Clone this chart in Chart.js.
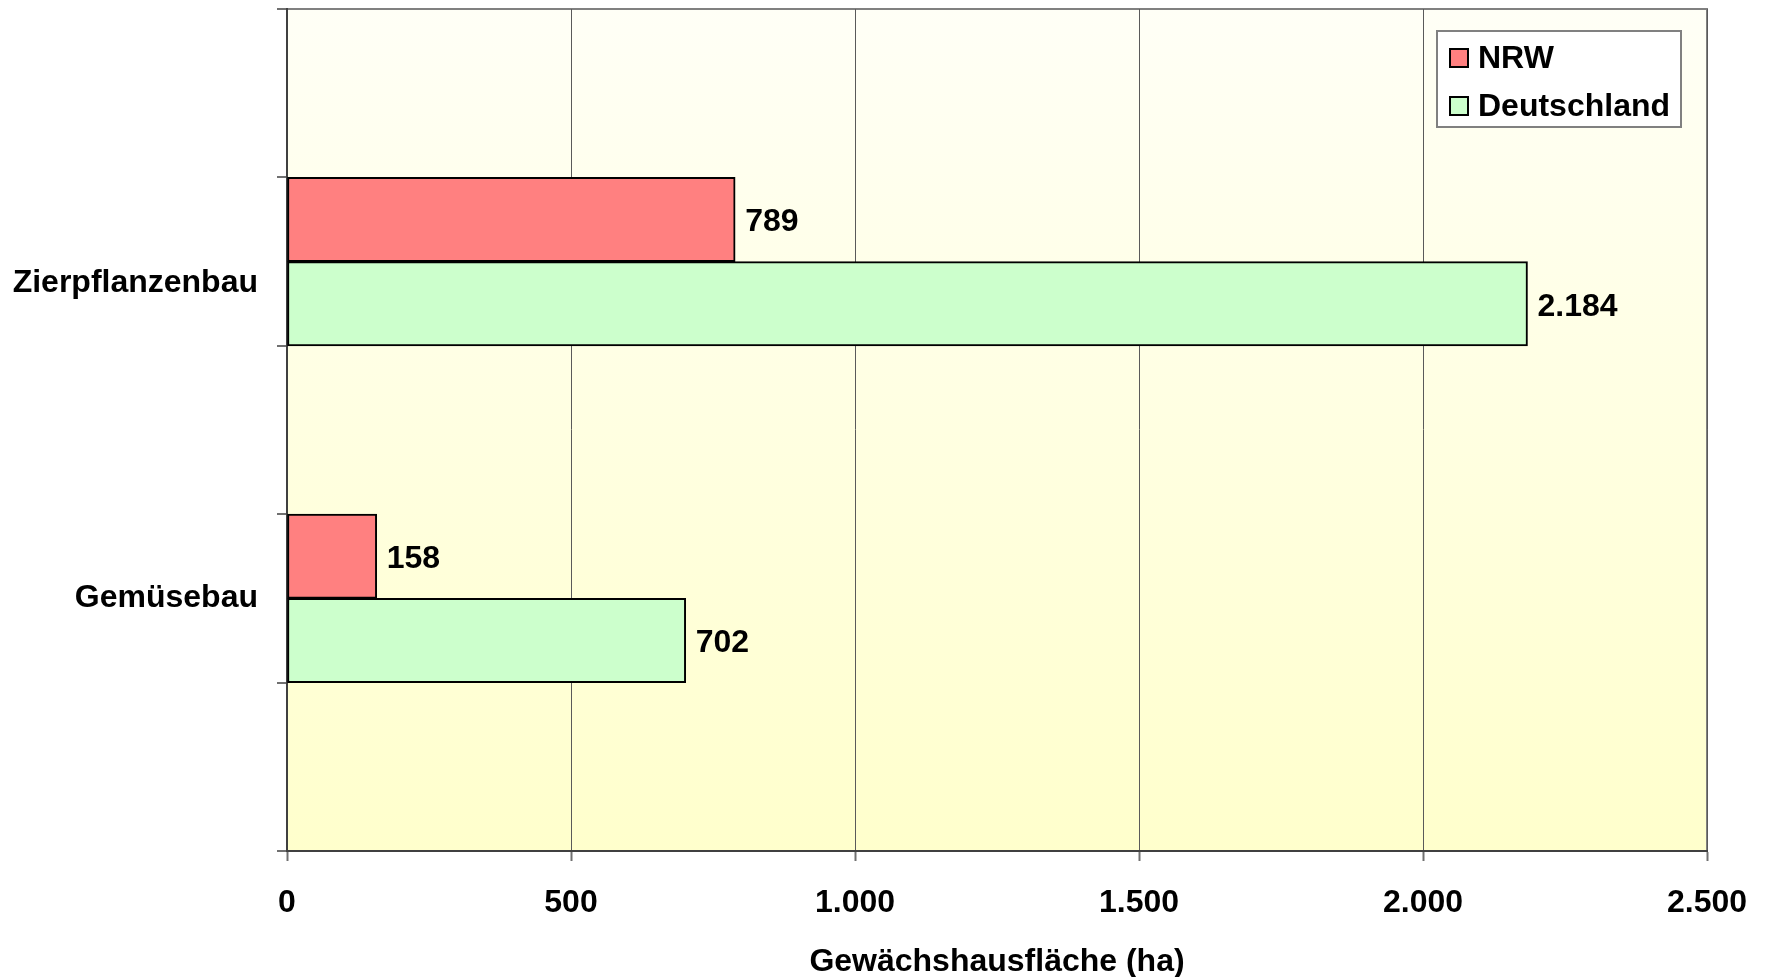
<!DOCTYPE html>
<html>
<head>
<meta charset="utf-8">
<script src="https://cdn.jsdelivr.net/npm/chart.js@4/dist/chart.umd.min.js"></script>
<style>html,body{margin:0;padding:0;background:#fff}</style>
</head>
<body>
<canvas id="chart" width="1766" height="977"></canvas>
<script>
// Gewächshausfläche NRW vs. Deutschland
const categories = ['', 'Zierpflanzenbau', '', 'Gemüsebau', ''];
const seriesNames = ['NRW', 'Deutschland'];
const nrwValues = [null, 789, null, 158, null];
const deutschlandValues = [null, 2184, null, 702, null];
const xTicks = [0, 500, 1000, 1500, 2000, 2500];
const axisTitle = 'Gewächshausfläche (ha)';

const FONT = "'Liberation Sans', Arial, sans-serif";
const fmt = v => String(Math.round(v)).replace(/\B(?=(\d{3})+(?!\d))/g, '.');

const plotBackground = {
  id: 'plotBackground',
  beforeDraw(chart) {
    const { ctx, chartArea: a } = chart;
    const g = ctx.createLinearGradient(0, a.top, 0, a.bottom);
    g.addColorStop(0, '#fffff6');
    g.addColorStop(1, '#ffffcc');
    ctx.save();
    ctx.fillStyle = g;
    ctx.fillRect(a.left, a.top, a.right - a.left, a.bottom - a.top);
    ctx.strokeStyle = '#808080';
    ctx.lineWidth = 2;
    ctx.strokeRect(a.left, a.top, a.right - a.left, a.bottom - a.top);
    ctx.restore();
  }
};

const valueLabels = {
  id: 'valueLabels',
  afterDatasetsDraw(chart) {
    const ctx = chart.ctx;
    ctx.save();
    ctx.font = 'bold 32px ' + FONT;
    ctx.fillStyle = '#000';
    ctx.textAlign = 'left';
    ctx.textBaseline = 'middle';
    chart.data.datasets.forEach((ds, i) => {
      chart.getDatasetMeta(i).data.forEach((bar, j) => {
        if (ds.data[j] == null) return;
        ctx.fillText(fmt(ds.data[j]), bar.x + 10, bar.y + 3);
      });
    });
    ctx.restore();
  }
};

const boxLegend = {
  id: 'boxLegend',
  afterDraw(chart) {
    const ctx = chart.ctx;
    const x = 1437, y = 31, w = 244, h = 96;
    ctx.save();
    ctx.fillStyle = '#fff';
    ctx.fillRect(x, y, w, h);
    ctx.strokeStyle = '#808080';
    ctx.lineWidth = 2;
    ctx.strokeRect(x, y, w, h);
    ctx.font = 'bold 32px ' + FONT;
    ctx.textBaseline = 'middle';
    chart.data.datasets.forEach((ds, i) => {
      const cy = y + 27 + i * 48;
      ctx.fillStyle = ds.backgroundColor;
      ctx.fillRect(x + 13, cy - 9, 18, 18);
      ctx.strokeStyle = '#000';
      ctx.lineWidth = 2;
      ctx.strokeRect(x + 13, cy - 9, 18, 18);
      ctx.fillStyle = '#000';
      ctx.fillText(ds.label, x + 41, cy + 1);
    });
    ctx.restore();
  }
};

new Chart(document.getElementById('chart'), {
  type: 'bar',
  data: {
    labels: categories,
    datasets: [{
      label: seriesNames[0],
      data: nrwValues,
      backgroundColor: '#ff8080',
      borderColor: '#000',
      borderWidth: 2,
      borderSkipped: false,
      categoryPercentage: 1,
      barPercentage: 1
    }, {
      label: seriesNames[1],
      data: deutschlandValues,
      backgroundColor: '#ccffcc',
      borderColor: '#000',
      borderWidth: 2,
      borderSkipped: false,
      categoryPercentage: 1,
      barPercentage: 1
    }]
  },
  options: {
    indexAxis: 'y',
    responsive: false,
    animation: false,
    layout: { padding: { top: 9, right: 59, left: 0, bottom: 0 } },
    plugins: { legend: { display: false }, tooltip: { enabled: false } },
    scales: {
      x: {
        min: xTicks[0],
        max: xTicks[xTicks.length - 1],
        afterFit: s => { s.height = 126; s.paddingLeft = 0; s.paddingRight = 0; },
        afterBuildTicks: s => { s.ticks = xTicks.map(v => ({ value: v })); },
        ticks: {
          color: '#000',
          font: { family: FONT, size: 32, weight: 'bold' },
          padding: 23,
          maxRotation: 0,
          callback: v => fmt(v)
        },
        grid: { color: '#5a5a5a', lineWidth: 1, tickColor: '#707070', tickWidth: 2, tickLength: 10 },
        border: { color: '#404040', width: 2 },
        title: {
          display: true,
          text: axisTitle,
          color: '#000',
          font: { family: FONT, size: 32, weight: 'bold', lineHeight: 0.95 },
          padding: { top: 0, bottom: 0 }
        }
      },
      y: {
        afterFit: s => { s.width = 287; s.paddingTop = 0; s.paddingBottom = 0; },
        ticks: {
          color: '#000',
          font: { family: FONT, size: 32, weight: 'bold', lineHeight: 1.375 },
          padding: 19,
          autoSkip: false,
          callback: function (v, i) {
            const l = this.getLabelForValue(v);
            return i === 1 ? ['', l] : l;
          }
        },
        grid: { offset: true, drawOnChartArea: false, color: '#707070', lineWidth: 2, tickLength: 10 },
        border: { color: '#404040', width: 2 }
      }
    }
  },
  plugins: [plotBackground, valueLabels, boxLegend]
});
</script>
</body>
</html>
